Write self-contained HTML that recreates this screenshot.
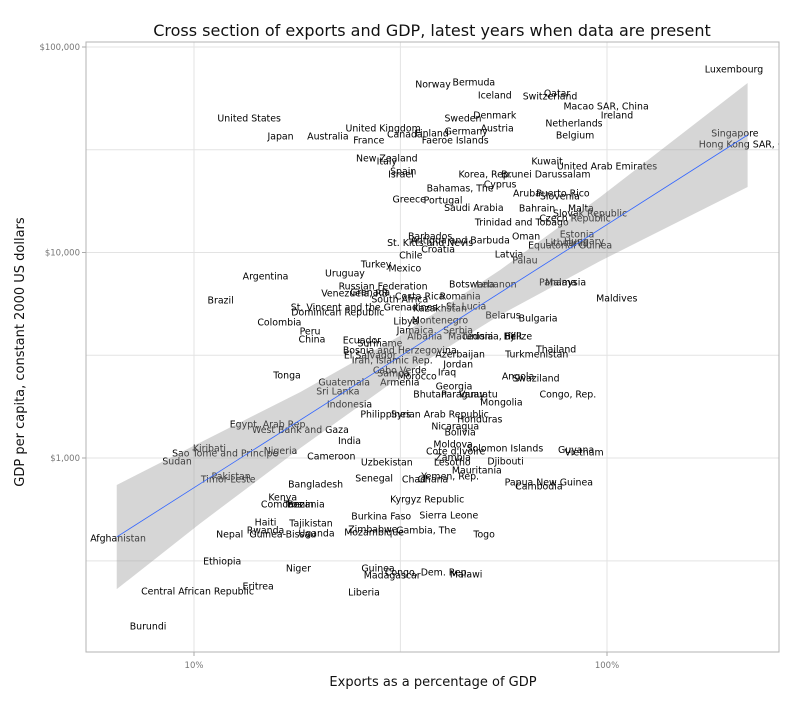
<!DOCTYPE html>
<html><head><meta charset="utf-8"><style>
body{margin:0;background:#fff;}
svg text{font-family:"DejaVu Sans","Liberation Sans",sans-serif;}
</style></head><body>
<svg id="chart" width="800" height="700" viewBox="0 0 800 700" xmlns="http://www.w3.org/2000/svg">
<rect x="0" y="0" width="800" height="700" fill="#fff"/>
<text x="432" y="36" text-anchor="middle" font-size="16" fill="#111">Cross section of exports and GDP, latest years when data are present</text>
<g id="grid"></g>
<g id="labels"></g>
<g id="fit"></g>
<rect x="86" y="42" width="693" height="610" fill="none" stroke="#b3b3b3" stroke-width="1"/>
<g id="axes"></g>
<text x="433" y="686" text-anchor="middle" font-size="13" fill="#111">Exports as a percentage of GDP</text>
<text transform="translate(24,352) rotate(-90)" text-anchor="middle" font-size="13" fill="#111">GDP per capita, constant 2000 US dollars</text>
</svg>
<script>
const countries = ["Luxembourg","Norway","Bermuda","Iceland","Switzerland","Qatar","Macao SAR, China","Ireland","Netherlands","Belgium","Denmark","Sweden","Austria","Germany","Faeroe Islands","Finland","Canada","United Kingdom","France","Australia","Japan","United States","New Zealand","Italy","Spain","Israel","Greece","Portugal","Bahamas, The","Saudi Arabia","Korea, Rep.","Cyprus","Brunei Darussalam","Kuwait","United Arab Emirates","Singapore","Hong Kong SAR, China","Aruba","Puerto Rico","Slovenia","Trinidad and Tobago","Bahrain","Malta","Slovak Republic","Czech Republic","Estonia","Hungary","Lithuania","Equatorial Guinea","Oman","Latvia","Palau","Barbados","Antigua and Barbuda","St. Kitts and Nevis","Croatia","Chile","Mexico","Turkey","Uruguay","Argentina","Brazil","Colombia","Russian Federation","Venezuela, RB","Grenada","Costa Rica","Romania","South Africa","Botswana","Lebanon","Panama","Malaysia","St. Vincent and the Grenadines","Dominican Republic","Kazakhstan","St. Lucia","Libya","Montenegro","Belarus","Bulgaria","Maldives","Peru","China","Ecuador","Suriname","Jamaica","Serbia","Albania","Macedonia, FYR","Tunisia","Fiji","Belize","Bosnia and Herzegovina","Azerbaijan","El Salvador","Iran, Islamic Rep.","Turkmenistan","Thailand","Jordan","Cabo Verde","Samoa","Morocco","Iraq","Tonga","Armenia","Guatemala","Sri Lanka","Angola","Swaziland","Georgia","Bhutan","Paraguay","Vanuatu","Mongolia","Congo, Rep.","Indonesia","Philippines","Syrian Arab Republic","Honduras","Nicaragua","Bolivia","Egypt, Arab Rep.","West Bank and Gaza","India","Kiribati","Sao Tome and Principe","Sudan","Nigeria","Cameroon","Uzbekistan","Moldova","Cote d'Ivoire","Zambia","Lesotho","Solomon Islands","Djibouti","Guyana","Vietnam","Mauritania","Yemen, Rep.","Chad","Ghana","Papua New Guinea","Cambodia","Senegal","Pakistan","Timor-Leste","Bangladesh","Kenya","Comoros","Benin","Tanzania","Kyrgyz Republic","Burkina Faso","Sierra Leone","Haiti","Tajikistan","Rwanda","Uganda","Guinea-Bissau","Nepal","Zimbabwe","Mozambique","Gambia, The","Togo","Afghanistan","Ethiopia","Niger","Guinea","Congo, Dem. Rep.","Madagascar","Malawi","Central African Republic","Eritrea","Liberia","Burundi"];
const exportsPct = [203,37.9,47.6,53.5,72.8,75.7,99.5,105.7,83.2,83.7,53.5,44.8,54.2,45.6,42.9,37.7,32.4,28.7,26.5,21.1,16.2,13.6,29.3,29.3,32.1,31.7,33.2,40.1,44.1,47.6,50.7,55.1,71.1,71.6,100,204,224,64,78.2,76.9,62.2,67.7,86.5,91,83.7,84.6,88,80,81.4,63.7,57.9,63.3,37.3,44.1,37.3,39,33.5,32.4,27.6,23.2,14.9,11.6,16.1,28.7,24.5,26.7,35.2,44.1,31.5,47.1,54,76,79.4,25.8,22.3,39.4,45.6,32.6,39.4,56,68.1,105.6,19.1,19.3,25.5,28.2,34.3,43.6,36.2,50.7,48.5,58.2,60.9,31.5,44.1,26.7,30.2,67.6,75.3,43.6,31.5,30.4,34.7,41,16.8,31.5,23.1,22.3,60.9,67.3,42.6,37.3,44.8,48.8,55.5,80.4,23.8,29.1,39.4,49.2,42.9,44.1,15.2,18.1,23.8,10.9,11.9,9.1,16.2,21.5,29.3,42.4,43,42.4,42.2,56.6,56.8,84.2,88,48.4,41.7,34.1,37.9,72.3,68.4,27.3,12.3,12.1,19.7,16.4,16.3,18.1,18.5,36.7,28.4,41.4,14.9,19.2,14.9,19.8,16.4,12.2,27.1,27.3,36.5,50.4,6.55,11.7,17.9,27.9,36.7,30.2,45.6,10.2,14.3,25.8,7.74];
const gdpPerCapita = [78000,66000,67600,58400,57800,59700,51600,46700,42700,37300,46700,45100,40300,39000,35300,38200,37700,40300,35300,36900,36900,45100,28800,27900,24900,24100,18200,18000,20600,16600,24100,21500,24100,27900,26400,38200,33700,19500,19500,18800,14100,16500,16500,15600,14700,12300,11400,11200,10900,12000,9840,9200,12000,11500,11200,10400,9720,8410,8790,7950,7690,5870,4590,6870,6350,6420,6140,6140,5940,7030,7030,7190,7190,5430,5130,5370,5490,4640,4700,4960,4800,6010,4150,3790,3750,3630,4200,4200,3920,3920,3920,3920,3920,3350,3210,3170,3000,3210,3390,2870,2680,2590,2510,2620,2530,2340,2340,2120,2510,2450,2240,2050,2050,2050,1870,2050,1830,1640,1640,1550,1430,1340,1460,1380,1220,1120,1060,967,1090,1020,957,1170,1080,1010,957,1120,967,1100,1070,874,817,791,791,764,731,800,817,791,747,646,597,597,597,631,522,528,489,482,446,432,427,427,451,437,446,427,408,315,292,292,279,270,273,225,238,223,152];
const fitX = [6.5,219];
const fitY = [413,37300];
const bandX = [6.5,10.3,18.1,31.5,55.1,96.3,219];
const bandLow = [230,477,1118,2479,4963,9091,20840];
const bandHigh = [739,1183,2095,3924,8222,18620,66800];
const xTicks = [10,100];
const xTickLabels = ["10%","100%"];
const xMinor = [31.6];
const yTicks = [1000,10000,100000];
const yTickLabels = ["$1,000","$10,000","$100,000"];
const yMinor = [316,3162,31623];

const NS="http://www.w3.org/2000/svg";
function xs(v){return 194+413*(Math.log10(v)-1);}
function ys(v){return 458-205.5*(Math.log10(v)-3);}
function mk(tag,attrs,parent){const e=document.createElementNS(NS,tag);for(const k in attrs)e.setAttribute(k,attrs[k]);parent.appendChild(e);return e;}
const grid=document.getElementById('grid'),labels=document.getElementById('labels'),fit=document.getElementById('fit'),axes=document.getElementById('axes');
xMinor.concat(xTicks).forEach(v=>{const l=mk('line',{x1:xs(v),x2:xs(v),y1:42,y2:652,stroke:'#e3e3e3','stroke-width':1},grid);

});
yMinor.concat(yTicks).forEach(v=>{const l=mk('line',{x1:86,x2:779,y1:ys(v),y2:ys(v),stroke:'#e3e3e3','stroke-width':1},grid);

});
const clip=mk('clipPath',{id:'pc'},document.getElementById('chart'));
mk('rect',{x:86,y:42,width:693,height:610},clip);
labels.setAttribute('clip-path','url(#pc)');
countries.forEach((c,i)=>{const t=mk('text',{x:xs(exportsPct[i]),y:ys(gdpPerCapita[i])+3.5,'text-anchor':'middle','font-size':'9.4',fill:'#000'},labels);
t.textContent=c;

});
let d='';bandX.forEach((v,i)=>{d+=(i?'L':'M')+xs(v)+' '+ys(bandHigh[i])+' ';});
for(let i=bandX.length-1;i>=0;i--){d+='L'+xs(bandX[i])+' '+ys(bandLow[i])+' ';}
const band=mk('path',{d:d+'Z',fill:'#999','fill-opacity':0.4,stroke:'none'},fit);


const fl=mk('line',{x1:xs(fitX[0]),y1:ys(fitY[0]),x2:xs(fitX[1]),y2:ys(fitY[1]),stroke:'#3366ff','stroke-width':0.8},fit);


xTicks.forEach((v,i)=>{mk('line',{x1:xs(v),x2:xs(v),y1:652,y2:656,stroke:'#aaa'},axes);
const t=mk('text',{x:xs(v),y:668,'text-anchor':'middle','font-size':'8.5',fill:'#777'},axes);
t.textContent=xTickLabels[i];

});
yTicks.forEach((v,i)=>{mk('line',{x1:82,x2:86,y1:ys(v),y2:ys(v),stroke:'#aaa'},axes);
const t=mk('text',{x:80,y:ys(v)+3,'text-anchor':'end','font-size':'8.5',fill:'#777'},axes);
t.textContent=yTickLabels[i];

});
</script>
</body></html>
